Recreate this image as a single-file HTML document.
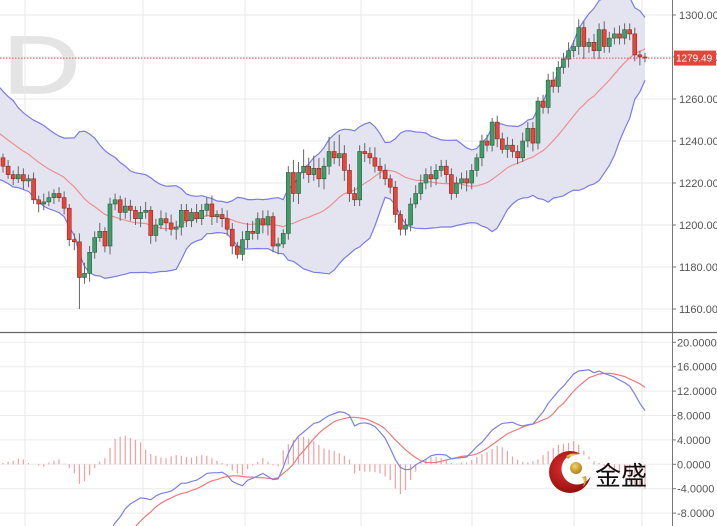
<!DOCTYPE html>
<html><head><meta charset="utf-8">
<style>
html,body{margin:0;padding:0;background:#fff;overflow:hidden;width:717px;height:526px;}
#wrap{position:relative;width:717px;height:526px;overflow:hidden;font-family:"Liberation Sans",sans-serif;}
svg{display:block;}
svg text{font-family:"Liberation Sans",sans-serif;}
</style></head>
<body>
<div id="wrap">
<svg id="chart" width="717" height="526" viewBox="0 0 717 526">
  <defs>
    <clipPath id="upClip"><rect x="0" y="0" width="672" height="332"/></clipPath>
    <clipPath id="loClip"><rect x="0" y="334" width="672" height="192"/></clipPath>
    <radialGradient id="logoRed" cx="0.4" cy="0.4" r="0.7"><stop offset="0" stop-color="#e23030"/><stop offset="1" stop-color="#8a0a0a"/></radialGradient>
    <radialGradient id="logoGold" cx="0.4" cy="0.35" r="0.7"><stop offset="0" stop-color="#f3d36a"/><stop offset="1" stop-color="#a97c14"/></radialGradient>
  </defs>
  <g>
    <text x="-44" y="93" font-size="82" fill="#e6e6e6">1</text>
    <text x="0" y="93" font-size="82" fill="#e4e4e4" stroke="#e4e4e4" stroke-width="1.5" transform="translate(3,0) scale(1.3,1)">D</text>
  </g>
  <g id="grid"></g>
  <g id="upper" clip-path="url(#upClip)"></g>
  <g id="lower" clip-path="url(#loClip)"></g>
  <g id="axes"></g>
  <g>
    <circle cx="570" cy="472" r="21" fill="url(#logoRed)"/>
    <circle cx="577" cy="469" r="15.5" fill="#fff"/>
    <circle cx="576" cy="468" r="6" fill="url(#logoGold)"/>
    <path d="M566 456 q6 -4 14 -2 q-8 1 -12 5z" fill="url(#logoGold)"/>
    <path d="M586 476 q2 6 -3 11 q2 -6 -1 -10z" fill="url(#logoGold)"/>
    <text x="595" y="485" font-size="26" fill="#111" font-family="'Liberation Sans','Noto Sans CJK SC',sans-serif">金盛</text>
  </g>
</svg>
</div>
<script>
const priorCloses=[1264,1262,1258,1260,1255,1250,1252,1248,1245,1244,1240,1238,1236,1240,1235,1232,1234,1230,1228,1232];
const closes=[1228,1224,1222,1224,1221,1222,1212,1210,1211,1213,
1215,1213,1208,1193,1192,1175,1177,1187,1194,1197,
1190,1210,1212,1206,1209,1207,1203,1206,1207,1195,
1200,1203,1201,1198,1199,1207,1202,1206,1203,1207,
1210,1204,1205,1203,1198,1190,1186,1193,1197,1196,
1203,1200,1204,1190,1191,1196,1225,1215,1225,1228,
1224,1227,1222,1228,1235,1232,1234,1226,1215,1212,
1235,1234,1232,1228,1226,1222,1218,1205,1198,1200,
1210,1215,1220,1224,1222,1226,1228,1224,1215,1220,
1222,1220,1226,1232,1240,1238,1249,1241,1236,1238,
1235,1232,1240,1246,1239,1259,1256,1269,1266,1275,
1279,1283,1285,1294,1285,1287,1283,1293,1285,1289,
1291,1289,1293,1291,1281,1280,1279.49];
const upperWicks=[2,3,2,4,3,2,3,2,4,3,2,3,3,2,3,4,5,3,3,4,2,3,3,2,4,3,2,3,4,2,3,4,3,4,3,3,3,2,4,3,3,4,2,3,4,3,2,4,4,5,3,4,3,2,3,2,3,6,5,8,4,6,5,4,7,5,9,4,3,3,3,4,3,5,4,3,2,3,2,3,3,4,4,3,4,3,3,3,3,3,3,4,3,2,3,3,2,3,3,4,3,3,4,3,3,2,3,3,4,3,3,4,3,4,3,2,4,3,4,3,3,4,3,3,3,2,2];
const lowerWicks=[3,2,3,2,4,3,2,4,3,2,3,2,3,3,4,15,3,4,3,2,3,4,3,4,3,5,3,4,3,4,3,2,4,3,5,4,3,3,2,3,3,4,3,4,3,4,2,3,4,3,3,4,5,3,4,2,3,4,5,3,4,3,4,5,4,3,4,5,4,3,3,4,3,3,4,3,3,4,3,3,3,2,3,3,4,3,3,4,3,2,3,4,3,3,4,3,3,4,2,4,3,3,2,3,4,3,3,3,3,3,3,4,3,4,6,3,4,4,3,3,3,3,3,3,3,4,2];
const macdLine=[-14,-14.5,-15,-15.5,-16,-16.5,-17,-17.5,-18,-18,-18.5,-19,-19,-19.5,-20,-20.5,-20,-19,-18,-16,-14,-11,-9.6,-8.6,-7.3,-6.5,-6,-5.5,-5.6,-5.8,-5.2,-4.8,-4.6,-4.4,-3.8,-3.1,-3.1,-2.8,-2.6,-2.1,-1.5,-1.4,-1.4,-1.3,-1.8,-2.8,-3.2,-3.5,-2.6,-2.3,-1.9,-1.5,-2.0,-2.5,-2.4,-0.5,1.8,3.5,4.6,5.3,6.0,6.7,6.9,7.5,8.0,8.3,8.6,8.5,8.0,6.3,6.7,6.8,6.6,6.2,5.3,4.3,2.6,0.8,-0.5,-0.9,-0.8,-0.1,0.4,0.8,1.4,1.6,1.6,1.5,0.9,1.0,1.1,1.2,2.0,2.9,3.6,4.6,5.6,6.2,6.7,6.8,6.9,6.5,6.3,6.5,6.6,7.6,8.6,10.0,11.0,12.0,12.8,13.8,14.8,15.3,15.4,15.5,15.0,15.3,14.9,14.6,14.3,13.8,13.4,12.8,11.5,10.0,8.8];
const signalLine=[-15,-15.3,-15.6,-15.9,-16.2,-16.5,-16.8,-17.1,-17.4,-17.7,-18,-18.3,-18.5,-18.7,-18.8,-18.9,-18.8,-18.5,-18.2,-17.6,-16.8,-15.8,-14.8,-13.6,-12.4,-11.2,-10.2,-9.3,-8.5,-7.8,-7.0,-6.4,-5.9,-5.5,-5.1,-4.8,-4.6,-4.3,-4.0,-3.6,-3.1,-2.7,-2.5,-2.2,-2.0,-1.9,-1.9,-2.0,-2.1,-2.1,-2.2,-2.2,-2.3,-2.4,-2.2,-1.5,-0.8,0.0,1.3,2.2,3.2,4.2,5.1,5.8,6.4,7.0,7.3,7.5,7.7,7.7,7.6,7.5,7.2,6.8,6.4,5.8,4.9,4.0,3.2,2.4,1.7,1.1,0.6,0.3,0.3,0.3,0.5,0.7,0.9,1.1,1.3,1.4,1.5,1.7,2.1,2.6,3.2,3.8,4.4,5.0,5.4,5.7,6.1,6.4,6.6,6.9,7.3,7.6,8.3,9.3,10.0,11.0,12.0,12.8,13.5,14.2,14.5,14.8,14.9,14.9,14.8,14.6,14.4,14.0,13.6,13.2,12.6];
const histogram=[0.2,0.4,0.6,0.9,0.8,0.2,0,-0.2,-0.4,0.3,0.6,0.8,0.1,-0.6,-1.5,-3.2,-2.8,-1.8,-0.6,0.4,1.0,2.7,4.2,4.5,4.7,4.3,4.0,3.6,2.4,1.7,1.4,1.1,1.0,1.3,1.5,1.4,1.2,1.1,1.3,1.5,1.4,1.0,0.6,0.2,-0.3,-1.0,-1.5,-1.8,-0.8,-0.2,0.4,1.0,0.4,-0.2,-0.3,2.3,3.3,4.0,4.4,4.5,4.2,3.8,3.2,2.6,2.4,2.2,1.8,1.4,0.8,-1.5,-1.1,-1.2,-1.2,-1.3,-1.5,-2.0,-2.6,-4.0,-4.9,-4.2,-2.6,-1.2,0.3,0.8,1.2,1.2,1.0,0.6,0.2,0.1,0.2,0.3,0.7,1.2,1.6,2.0,2.5,3.0,2.8,2.2,1.3,0.8,0.4,0.3,0.5,0.8,1.5,2.2,2.7,3.2,3.4,3.5,3.8,3.2,2.2,1.3,0.5,0.2,-0.3,-0.8,-1.0,-1.6,-2.2,-2.8,-3.3,-3.8,-4.0];
const priceTicks=[1300,1280,1260,1240,1220,1200,1180,1160];
const priceTickLabels=["1300.00","1280.00","1260.00","1240.00","1220.00","1200.00","1180.00","1160.00"];
const macdTicks=[20,16,12,8,4,0,-4,-8];
const macdTickLabels=["20.0000","16.0000","12.0000","8.0000","4.0000","0.0000","-4.0000","-8.0000"];
const lastPriceLabel="1279.49";
const vGridX=[25,143,245,361,472,574,642];

const NS="http://www.w3.org/2000/svg";
const X0=3, DX=5.095;
function xAt(i){return X0+i*DX;}
function yPrice(v){return 15+(1300-v)*2.1;}
function yMacd(v){return 464.3-v*6.1;}
function mk(tag,attrs,parent){const e=document.createElementNS(NS,tag);for(const k in attrs)e.setAttribute(k,attrs[k]);parent.appendChild(e);return e;}

const grid=document.getElementById('grid'),up=document.getElementById('upper'),lo=document.getElementById('lower'),ax=document.getElementById('axes');

priceTicks.forEach(v=>{const l=mk('line',{x1:0,x2:672,y1:yPrice(v),y2:yPrice(v),stroke:'#e8e8e8','stroke-width':1},grid);});
macdTicks.forEach(v=>{const l=mk('line',{x1:0,x2:672,y1:yMacd(v),y2:yMacd(v),stroke:'#ececec','stroke-width':1},grid);});
vGridX.forEach(x=>{const l=mk('line',{x1:x,x2:x,y1:0,y2:526,stroke:'#e8e8e8','stroke-width':1},grid);});

const all=priorCloses.concat(closes), off=priorCloses.length;
const mid=[],ub=[],lb=[];
for(let i=-1;i<closes.length;i++){
  const k=i+off; const s=Math.max(0,k-19);
  const w=all.slice(s,k+1);
  const m=w.reduce((a,b)=>a+b,0)/w.length;
  const sd=Math.sqrt(w.reduce((a,b)=>a+(b-m)*(b-m),0)/w.length);
  mid.push([xAt(i),m]);ub.push([xAt(i),m+2*sd]);lb.push([xAt(i),m-2*sd]);
}
const pts=a=>a.map(p=>p[0].toFixed(1)+','+yPrice(p[1]).toFixed(1)).join(' ');
let fill=mk('polygon',{points:pts(ub)+' '+pts(lb.slice().reverse()),fill:'#e4e4f1'},up);

let ubl=mk('polyline',{points:pts(ub),fill:'none',stroke:'#7b7bea','stroke-width':1.2},up);

let lbl=mk('polyline',{points:pts(lb),fill:'none',stroke:'#7b7bea','stroke-width':1.2},up);

let mdl=mk('polyline',{points:pts(mid),fill:'none',stroke:'#ec8f8f','stroke-width':1.2},up);


let lp=mk('line',{x1:0,x2:672,y1:yPrice(closes[closes.length-1]),y2:yPrice(closes[closes.length-1]),stroke:'#e05050','stroke-width':1,'stroke-dasharray':'1.5,1.5'},ax);


for(let i=0;i<closes.length;i++){
  const o=i===0?priorCloses[priorCloses.length-1]:closes[i-1], c=closes[i];
  const hi=Math.max(o,c)+upperWicks[i], lw=Math.min(o,c)-lowerWicks[i];
  const x=xAt(i); const g=mk('g',{},up);
  
  
  mk('line',{x1:x,x2:x,y1:yPrice(hi),y2:yPrice(lw),stroke:'#666','stroke-width':1},g);
  const yt=yPrice(Math.max(o,c)), yb=yPrice(Math.min(o,c));
  mk('rect',{x:x-2,y:yt,width:4,height:Math.max(1,yb-yt),fill:c>=o?'#3f9e68':'#e5453a',stroke:c>=o?'#2a5e40':'#8a2a22','stroke-width':0.6},g);
}

for(let i=0;i<histogram.length;i++){
  const b=mk('line',{x1:xAt(i),x2:xAt(i),y1:yMacd(0),y2:yMacd(histogram[i]),stroke:'#f0a0a0','stroke-width':1.2},lo);
  
  
}
const mpts=a=>a.map((v,i)=>xAt(i).toFixed(1)+','+yMacd(v).toFixed(1)).join(' ');
let sl=mk('polyline',{points:mpts(signalLine),fill:'none',stroke:'#ee7b7b','stroke-width':1.2},lo);

let ml=mk('polyline',{points:mpts(macdLine),fill:'none',stroke:'#7e7ee8','stroke-width':1.2},lo);


let a1=mk('line',{x1:672.5,x2:672.5,y1:0,y2:526,stroke:'#777','stroke-width':1},ax);

let sep=mk('line',{x1:0,x2:717,y1:332.5,y2:332.5,stroke:'#666','stroke-width':1.2},ax);

priceTicks.forEach((v,k)=>{
  mk('line',{x1:672,x2:676,y1:yPrice(v),y2:yPrice(v),stroke:'#777'},ax);
  const t=mk('text',{x:679,y:yPrice(v)+4,'font-size':11,fill:'#555'},ax);t.textContent=priceTickLabels[k];
  
});
macdTicks.forEach((v,k)=>{
  mk('line',{x1:672,x2:676,y1:yMacd(v),y2:yMacd(v),stroke:'#777'},ax);
  const t=mk('text',{x:677,y:yMacd(v)+4,'font-size':11,fill:'#555'},ax);t.textContent=macdTickLabels[k];
  
});
const ly=yPrice(closes[closes.length-1]);
let box=mk('rect',{x:674,y:ly-7.5,width:42,height:15,fill:'#e0463a'},ax);

let bt=mk('text',{x:676,y:ly+3.5,'font-size':10,fill:'#fff'},ax);bt.textContent=lastPriceLabel;

</script>
</body></html>
